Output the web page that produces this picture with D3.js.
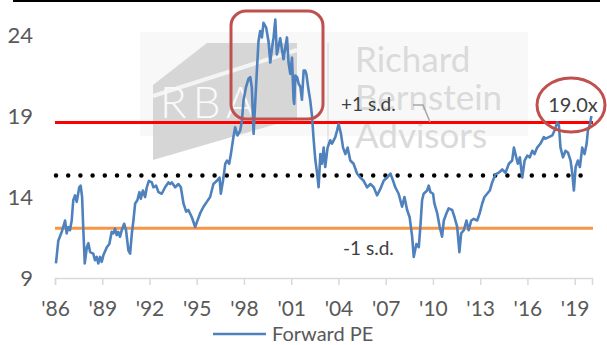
<!DOCTYPE html>
<html>
<head>
<meta charset="utf-8">
<script src="https://cdn.jsdelivr.net/npm/d3@7"></script>
<style>
  body { margin: 0; background: #fff; }
  svg { display: block; font-family: Lato, "Open Sans", sans-serif; }
</style>
</head>
<body>
<div id="chart"></div>
<script>
// decimal years and forward P/E
var years = [
  1986.06,1986.21,1986.43,1986.64,1986.74,1986.85,1986.95,1987.06,1987.16,1987.27,1987.38,1987.54,1987.63,1987.72,1987.80,1987.89,
  1988.02,1988.12,1988.23,1988.43,1988.54,1988.65,1988.75,1988.86,1988.97,1989.07,1989.29,1989.45,1989.60,1989.71,1989.81,1989.92,
  1990.02,1990.13,1990.24,1990.39,1990.51,1990.66,1990.77,1990.88,1990.98,1991.09,1991.23,1991.36,1991.45,1991.58,1991.72,1991.83,1991.96,
  1992.15,1992.25,1992.42,1992.57,1992.78,1992.99,1993.20,1993.31,1993.42,1993.63,1993.84,1993.99,
  1994.16,1994.33,1994.47,1994.69,1994.90,1995.01,1995.22,1995.43,1995.64,1995.85,
  1996.06,1996.28,1996.45,1996.53,1996.70,1996.81,1996.92,1997.06,1997.17,1997.33,1997.44,1997.59,1997.76,1997.87,1997.97,
  1998.12,1998.29,1998.40,1998.50,1998.61,1998.71,1998.82,1998.92,1999.03,1999.14,1999.24,1999.41,1999.56,1999.67,1999.78,1999.88,1999.99,
  2000.09,2000.30,2000.51,2000.62,2000.73,2000.83,2000.94,2001.05,2001.15,2001.19,2001.26,2001.37,2001.47,2001.58,2001.68,2001.79,2001.89,2001.96,
  2002.10,2002.21,2002.32,2002.42,2002.53,2002.64,2002.74,2002.85,2002.95,2003.06,2003.16,2003.31,2003.48,2003.59,2003.80,2003.91,
  2004.01,2004.16,2004.29,2004.44,2004.58,2004.75,2004.96,2005.18,2005.39,2005.60,2005.82,2006.03,2006.24,2006.45,2006.66,2006.87,
  2007.09,2007.30,2007.47,2007.61,2007.82,2008.04,2008.19,2008.36,2008.52,2008.68,2008.78,2008.95,2009.10,2009.20,2009.31,2009.41,2009.63,2009.73,2009.84,
  2010.01,2010.09,2010.27,2010.43,2010.58,2010.69,2010.86,2011.00,2011.22,2011.37,2011.54,2011.68,2011.79,2011.96,
  2012.13,2012.27,2012.43,2012.59,2012.81,2012.97,2013.13,2013.27,2013.44,2013.61,2013.76,2013.97,
  2014.18,2014.40,2014.61,2014.82,2015.03,2015.14,2015.24,2015.39,2015.52,2015.67,2015.82,2015.99,
  2016.15,2016.31,2016.45,2016.62,2016.83,2017.04,2017.15,2017.36,2017.58,2017.72,2017.89,
  2018.00,2018.10,2018.26,2018.42,2018.57,2018.74,2018.85,2018.95,2019.06,2019.20,2019.33,2019.48,2019.63,2019.76,2019.84,2019.97,2020.06
];
var forwardPE = [
  9.9,11.3,11.85,12.55,11.75,12.15,11.95,12.55,13.8,14.1,13.7,14.6,14.7,14.0,11.95,9.9,
  10.9,11.15,10.6,10.5,10.1,10.3,9.9,10.3,10.0,10.4,10.9,11.1,11.85,11.75,12.05,11.65,
  11.85,11.55,11.95,12.35,11.95,10.7,10.5,11.75,12.55,13.6,13.8,14.3,13.9,14.4,14.0,14.6,15.0,
  14.9,14.6,14.7,14.3,14.2,14.6,14.9,14.8,14.9,14.6,14.8,14.6,
  13.6,13.1,13.2,12.75,12.15,12.45,13.0,13.4,13.7,14.0,
  14.8,15.0,15.2,14.2,15.2,16.05,16.25,16.05,16.65,17.7,18.3,17.8,18.1,18.7,19.95,
  20.75,21.3,21.4,20.75,17.9,19.75,21.8,23.6,24.25,23.85,24.75,24.45,23.6,22.3,23.2,23.85,24.95,
  22.8,23.8,22.5,23.2,23.85,22.3,21.6,22.6,20.0,19.75,21.5,21.4,21.0,20.8,20.0,21.8,21.8,21.6,
  20.6,19.95,19.0,17.6,16.3,15.5,14.6,16.65,16.05,17.05,15.85,17.05,17.5,17.3,17.7,18.1,
  18.5,17.9,17.05,16.65,17.05,16.25,16.05,15.45,15.2,15.0,14.6,14.8,14.6,14.1,14.5,15.0,
  15.2,15.45,15.0,14.6,14.2,13.4,14.0,13.2,12.75,11.55,10.3,11.1,10.9,12.15,13.8,14.2,14.4,14.7,14.3,
  14.2,13.6,13.0,12.15,11.55,12.55,13.0,13.3,13.2,12.75,12.15,10.6,11.75,11.95,
  12.55,11.95,12.55,12.65,12.55,13.0,13.6,14.0,14.2,14.4,14.9,15.4,
  15.5,15.7,15.5,16.05,16.25,17.05,16.65,16.05,16.45,15.2,16.25,16.55,
  16.45,16.85,16.65,17.05,17.3,17.7,17.6,17.7,17.8,18.1,18.6,
  18.4,17.05,16.45,16.85,16.75,16.25,15.45,14.4,15.85,16.25,15.85,17.05,16.65,17.3,18.1,18.5,19.0
];
var xTickYears = [1986,1989,1992,1995,1998,2001,2004,2007,2010,2013,2016,2019];
var yTicks = [9,14,19,24];
var meanPE = 15.33;
var plusSD = 18.6;
var minusSD = 12.07;
var seriesName = "Forward PE";
var currentLabel = "19.0x";

var w = 607, h = 345;
var data = years.map(function(y, i){ return {year: y, pe: forwardPE[i]}; });

var svg = d3.select("#chart").append("svg")
  .attr("width", w)
  .attr("height", h);

var x = d3.scaleLinear().domain([1986, 2020.1]).range([55, 592]);
var y = d3.scaleLinear().domain([9, 24]).range([278, 35]);

// frame line at very top
svg.append("line")
  .attr("x1", 13).attr("x2", 600).attr("y1", 1).attr("y2", 1)
  .attr("stroke", "#000").attr("stroke-width", 2);

// watermark
var wm = svg.append("g");
wm.append("rect").attr("x", 140).attr("y", 32).attr("width", 388).attr("height", 104).attr("fill", "#f8f8f8");
wm.append("polygon")
  .attr("points", "153,85 207,43 297,43 297,118 153,160")
  .attr("fill", "#d6d6d6");
wm.append("line").attr("x1", 153).attr("y1", 96).attr("x2", 297).attr("y2", 50)
  .attr("stroke", "#f4f4f4").attr("stroke-width", 4);
wm.append("text").attr("x", 160).attr("y", 118)
  .attr("font-size", 44).attr("font-weight", 300).attr("letter-spacing", 6)
  .attr("fill", "#fafafa").text("RBA");
wm.append("line").attr("x1", 328).attr("x2", 328).attr("y1", 43).attr("y2", 145)
  .attr("stroke", "#e0e0e0").attr("stroke-width", 1.5);
["Richard", "Bernstein", "Advisors"].forEach(function(t, i){
  wm.append("text").attr("x", 355).attr("y", 72 + i*38)
    .attr("font-size", 35).attr("fill", "#dadada").text(t);
});

// x axis
var xAxis = d3.axisBottom(x)
  .tickValues(xTickYears)
  .tickSize(7)
  .tickFormat(function(d){ return "'" + String(d).slice(2); });
var gx = svg.append("g").attr("transform", "translate(0,278)").call(xAxis);
gx.select(".domain").attr("stroke", "#d9d9d9").attr("stroke-width", 1.5);
gx.selectAll(".tick line").attr("stroke", "#d9d9d9").attr("stroke-width", 1.5);
gx.selectAll(".tick text").attr("fill", "#595959").attr("font-size", 21)
  .attr("font-family", "Lato").attr("y", 38).attr("dy", 0);

// y axis
var yAxis = d3.axisLeft(y).tickValues(yTicks).tickSize(0).tickPadding(0);
var gy = svg.append("g").attr("transform", "translate(33,0)").call(yAxis);
gy.select(".domain").remove();
gy.selectAll(".tick text").attr("fill", "#595959").attr("font-size", 22)
  .attr("font-family", "Lato");

// reference lines
svg.append("line")
  .attr("x1", x(1986)).attr("x2", 593).attr("y1", y(plusSD)).attr("y2", y(plusSD))
  .attr("stroke", "#ff0000").attr("stroke-width", 3.2);
svg.append("line")
  .attr("x1", x(1986)).attr("x2", 593).attr("y1", y(minusSD)).attr("y2", y(minusSD))
  .attr("stroke", "#f79646").attr("stroke-width", 3.2);
svg.append("line")
  .attr("x1", 56).attr("x2", 586).attr("y1", y(meanPE)).attr("y2", y(meanPE))
  .attr("stroke", "#000").attr("stroke-width", 4.5)
  .attr("stroke-linecap", "round").attr("stroke-dasharray", "0 12.2");

// series
var line = d3.line()
  .x(function(d){ return x(d.year); })
  .y(function(d){ return y(d.pe); });
svg.append("path")
  .datum(data)
  .attr("d", line)
  .attr("fill", "none")
  .attr("stroke", "#4f81bd")
  .attr("stroke-width", 2.6)
  .attr("stroke-linejoin", "round");

// highlight box around the 1998-2002 peak
svg.append("rect")
  .attr("x", 231).attr("y", 11).attr("width", 92).attr("height", 108)
  .attr("rx", 15).attr("ry", 15)
  .attr("fill", "none").attr("stroke", "#c0504d").attr("stroke-width", 3);

// current value ellipse
svg.append("ellipse")
  .attr("cx", 571).attr("cy", 105).attr("rx", 34).attr("ry", 27)
  .attr("fill", "none").attr("stroke", "#c0504d").attr("stroke-width", 3);
svg.append("text")
  .attr("x", 573).attr("y", 112).attr("text-anchor", "middle")
  .attr("font-size", 20).attr("fill", "#404040").text(currentLabel);

// s.d. labels
svg.append("text").attr("x", 341).attr("y", 111)
  .attr("font-size", 19).attr("fill", "#404040").text("+1 s.d.");
svg.append("polyline")
  .attr("points", "413,105 423,105 430,122")
  .attr("fill", "none").attr("stroke", "#a6a6a6").attr("stroke-width", 1.5);
svg.append("text").attr("x", 343).attr("y", 255)
  .attr("font-size", 19).attr("fill", "#404040").text("-1 s.d.");

// legend
svg.append("line")
  .attr("x1", 213).attr("x2", 266).attr("y1", 334).attr("y2", 334)
  .attr("stroke", "#4f81bd").attr("stroke-width", 2.5);
svg.append("text").attr("x", 272).attr("y", 341)
  .attr("font-size", 20).attr("fill", "#595959").text(seriesName);
</script>
</body>
</html>
